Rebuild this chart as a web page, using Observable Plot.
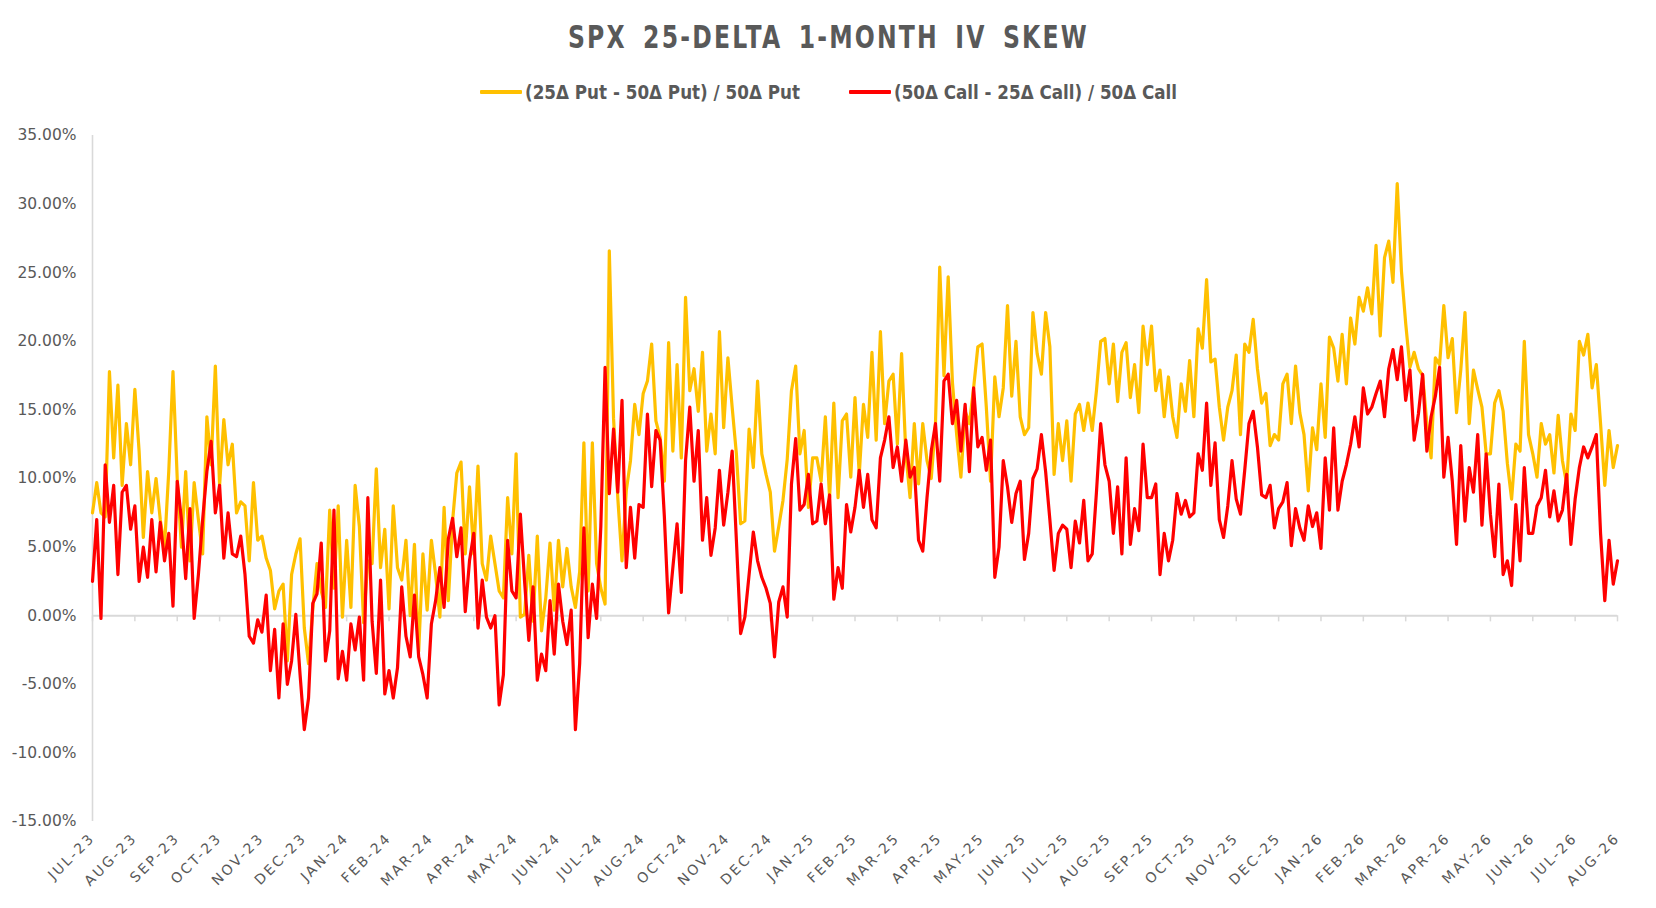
<!DOCTYPE html>
<html>
<head>
<meta charset="utf-8">
<script src="https://cdn.jsdelivr.net/npm/d3@7"></script>
<script src="https://cdn.jsdelivr.net/npm/@observablehq/plot@0.6"></script>
<style>
  html, body { margin: 0; padding: 0; background: #ffffff; }
  #wrap { position: relative; width: 1656px; height: 908px; overflow: hidden; background: #fff; }
  #header { position: relative; width: 1656px; height: 120px; }
  #title {
    position: absolute; left: 0; top: 16px; width: 1656px; text-align: center;
    font-family: "DejaVu Sans", "Open Sans", sans-serif;
    font-weight: bold; font-size: 32px; line-height: 42px; letter-spacing: 3px; word-spacing: 8px;
    color: #595959; white-space: nowrap;
  }
  #title .inner { display: inline-block; transform-origin: 50% 50%; }
  #legend {
    position: absolute; left: 0; top: 78px; width: 1656px; height: 28px;
    display: flex; justify-content: center; align-items: center; gap: 49px;
    font-family: "DejaVu Sans", "Open Sans", sans-serif;
    font-weight: bold; font-size: 20px; color: #595959; white-space: nowrap;
  }
  .item { display: flex; align-items: center; gap: 3px; }
  .sw { width: 42px; height: 4px; border-radius: 1px; }
  .lt { display: inline-block; overflow: visible; }
  .lt .inner { display: inline-block; transform-origin: 0 50%; }
  #chart svg { display: block; }
  g[aria-label="x-axis tick label"] { letter-spacing: 2.4px; }
</style>
</head>
<body>
<div id="wrap">
  <div id="header">
    <div id="title"></div>
    <div id="legend"></div>
  </div>
  <div id="chart"></div>
</div>
<script>
// ---------------- DATA ----------------
const chartTitle = "SPX 25-DELTA 1-MONTH IV SKEW";
const seriesNames = ["(25Δ Put - 50Δ Put) / 50Δ Put", "(50Δ Call - 25Δ Call) / 50Δ Call"];
const seriesColors = ["#FFC000", "#FF0000"];

// first observation and spacing of the axis' major ticks (Excel date axis)
const startDate = "2023-07-25";
const tickStepDays = 31;
const pointsPerTick = 10;

const tickLabels = [
  "JUL-23","AUG-23","SEP-23","OCT-23","NOV-23","DEC-23",
  "JAN-24","FEB-24","MAR-24","APR-24","MAY-24","JUN-24","JUL-24","AUG-24","OCT-24","NOV-24","DEC-24",
  "JAN-25","FEB-25","MAR-25","APR-25","MAY-25","JUN-25","JUL-25","AUG-25","SEP-25","OCT-25","NOV-25","DEC-25",
  "JAN-26","FEB-26","MAR-26","APR-26","MAY-26","JUN-26","JUL-26","AUG-26"
];

const yTicks = [-15, -10, -5, 0, 5, 10, 15, 20, 25, 30, 35];

// (25Δ Put - 50Δ Put) / 50Δ Put, in %  (10 readings per tick interval)
const putSkew = [
  7.5, 9.7, 7.5, 7.2, 17.8, 11.5, 16.8, 9.5, 14, 11,
  16.5, 12, 5.7, 10.5, 7.5, 10, 7, 5, 10.5, 17.8,
  10, 5, 10.5, 4, 9.7, 7, 4.5, 14.5, 11, 18.2,
  9.5, 14.3, 11, 12.5, 7.5, 8.3, 8, 4, 9.7, 5.5,
  5.8, 4.2, 3.3, 0.5, 1.8, 2.3, -3.3, 3.0, 4.5, 5.6,
  -0.9, -3.5, 0.5, 3.8, 1.8, 0.6, 7.7, 2, 8, -0.1,
  5.5, 0.6, 9.5, 6.5, -0.5, 4, 3.8, 10.7, 3.5, 6.3,
  0.5, 8, 3.5, 2.6, 5.5, 0, 5.2, -2.6, 4.5, 0.4,
  5.5, 3, -0.1, 7.9, 1.1, 6.9, 10.4, 11.2, 4.5, 9.4,
  4.5, 10.9, 3.8, 2.6, 5.8, 3.8, 1.8, 1.3, 8.6, 4.5,
  11.8, -0.1, 0.1, 4.4, -0.4, 5.8, -1.1, 1.3, 5.3, 0.4,
  5.5, 2.1, 4.9, 2.1, 0.6, 3.2, 12.6, 1.8, 12.6, 3.8,
  2, 0.85, 26.6, 14.4, 8.6, 4, 9.1, 11.3, 15.4, 13.2,
  16.2, 17.1, 19.8, 14.2, 13, 9.8, 19.9, 12, 18.3, 11.5,
  23.2, 16.4, 18, 14.9, 19.2, 12, 14.7, 11.8, 20.7, 13.7,
  18.8, 15.2, 11.8, 6.7, 6.9, 13.6, 10.8, 17.1, 11.8, 10.3,
  9, 4.7, 6.5, 8.4, 11.4, 16.4, 18.2, 11.8, 13.5, 7.9,
  11.5, 11.5, 9.8, 14.5, 8.6, 15.5, 8.6, 14.2, 14.7, 10.1,
  15.9, 10.3, 15.4, 13, 19.2, 12.8, 20.7, 14, 17.1, 17.6,
  12.5, 19.1, 11.8, 8.6, 14, 9.6, 14, 11.3, 10, 14,
  25.4, 17.5, 24.7, 17, 13.2, 10.1, 14.9, 14, 16.6, 19.6,
  19.8, 15.2, 9.8, 17.4, 14.5, 16.6, 22.6, 16, 20, 14.5,
  13.2, 13.7, 22.1, 19.1, 17.6, 22.1, 19.6, 10.3, 14, 11.3,
  14.2, 9.8, 14.7, 15.4, 13.5, 15.5, 13.5, 16.4, 20, 20.2,
  16.9, 19.8, 15.6, 19.2, 19.9, 15.9, 18.3, 14.8, 21.1, 18.3,
  21.1, 16.4, 17.9, 14.5, 17.4, 14.5, 13, 16.9, 14.9, 18.6,
  14.5, 20.9, 19.5, 24.5, 18.5, 18.7, 15.2, 12.8, 15.2, 16.4,
  19, 13.2, 19.8, 19.2, 21.6, 18, 15.5, 16.2, 12.4, 13.2,
  12.8, 16.9, 17.6, 14, 18.2, 14.8, 13.2, 9.1, 13.7, 12.1,
  16.9, 13, 20.3, 19.5, 17.1, 20.5, 16.9, 21.7, 19.8, 23.2,
  22.2, 23.9, 22, 27, 20.4, 26.1, 27.3, 24.3, 31.5, 25.1,
  21.3, 18.1, 19.2, 18, 17.5, 14, 11.5, 18.8, 18.3, 22.6,
  18.8, 20.2, 14.8, 17.9, 22.1, 14, 17.9, 16.5, 15.2, 11.8,
  11.8, 15.5, 16.4, 14.9, 11.1, 8.5, 12.5, 12, 20, 13.2,
  11.8, 10.1, 14, 12.5, 13.2, 10.4, 14.6, 11.3, 9.6, 14.7,
  13.5, 20, 19, 20.5, 16.6, 18.3, 14, 9.5, 13.5, 10.8,
  12.4
];

// (50Δ Call - 25Δ Call) / 50Δ Call, in %
const callSkew = [
  2.5, 7, -0.2, 11, 6.8, 9.5, 3, 9, 9.5, 6.3,
  8, 2.5, 5, 2.8, 7, 3.2, 6.8, 4, 6, 0.7,
  9.8, 7, 2.7, 7.8, -0.2, 3, 7, 10.5, 12.7, 7.5,
  9.5, 4.2, 7.5, 4.5, 4.3, 5.8, 3, -1.5, -2, -0.3,
  -1.2, 1.5, -4, -1, -6, -0.6, -5, -3.3, 0.1, -4.3,
  -8.3, -6, 0.9, 1.6, 5.3, -3.3, -1.1, 7.7, -4.6, -2.6,
  -4.7, -0.6, -2.5, -0.1, -4.7, 8.6, -0.4, -4.2, 2.6, -5.7,
  -4, -6, -3.8, 2.1, -1.5, -3, 1.5, -3, -4.3, -6,
  -0.6, 1.1, 3.5, 0.6, 5.6, 7.1, 4.3, 6.4, 0.3, 4,
  6, -0.9, 2.6, -0.1, -0.9, 0, -6.5, -4.3, 5.5, 1.8,
  1.3, 7.4, 2.5, -1.8, 2.1, -4.7, -2.8, -4, 1.1, -2.8,
  2.3, -0.4, -2.1, 0.4, -8.3, -3.5, 6.4, -1.6, 2.3, -0.2,
  6.5, 18.1, 8.9, 13.6, 9, 15.7, 3.5, 7.9, 4.2, 8.1,
  7.9, 14.7, 9.4, 13.5, 12.8, 7.2, 0.2, 3.5, 6.7, 1.7,
  11.3, 15.2, 9.8, 13.5, 5.5, 8.6, 4.4, 6.4, 10.6, 6.6,
  9, 12, 5.5, -1.3, -0.1, 3, 6.1, 4, 2.8, 2,
  0.9, -3, 1, 2.1, -0.1, 9.6, 12.9, 7.7, 8.1, 10.3,
  6.7, 6.9, 9.6, 6.7, 8.8, 1.2, 3.5, 2, 8.1, 6.1,
  7.9, 10.6, 7.9, 10.3, 7, 6.4, 11.5, 12.8, 14.5, 10.8,
  12.3, 9.8, 12.8, 10.1, 10.8, 5.5, 4.7, 8.6, 12, 14,
  9.8, 17.1, 17.6, 14, 15.7, 12, 15.4, 10.5, 16.6, 12.3,
  13, 10.6, 12.8, 2.8, 5, 11.3, 9.4, 6.8, 8.9, 9.8,
  4.1, 6, 10, 10.7, 13.2, 10.5, 7, 3.3, 6, 6.6,
  6.3, 3.5, 6.9, 5.3, 8.4, 4, 4.5, 9, 14, 11,
  9.8, 6, 9.4, 4.5, 11.5, 5.2, 7.8, 6.2, 12.5, 8.6,
  8.6, 9.6, 3, 6, 4, 5.5, 8.9, 7.4, 8.4, 7.2,
  7.5, 11.8, 10.6, 15.5, 9.5, 12.6, 7, 5.7, 8, 11.3,
  8.5, 7.4, 10.6, 14, 14.9, 12.3, 8.8, 8.6, 9.5, 6.4,
  7.8, 8.3, 9.7, 5.1, 7.8, 6.4, 5.5, 8, 6.5, 7.5,
  4.9, 11.5, 7.7, 13.7, 7.7, 9.8, 11, 12.5, 14.5, 12.3,
  16.6, 14.7, 15.2, 16.2, 17.1, 14.5, 18, 19.4, 17.2, 19.6,
  15.7, 17.9, 12.8, 14.7, 17.6, 12, 14.5, 16, 18.1, 10.1,
  13, 9.8, 5.2, 12.4, 6.9, 10.8, 9, 13.2, 6.6, 11.8,
  7.4, 4.3, 9.6, 3, 4, 2.2, 8.1, 4, 10.8, 6,
  6, 8, 8.6, 10.6, 7.2, 9.1, 6.9, 7.7, 10.3, 5.2,
  8.5, 10.8, 12.3, 11.5, 12.3, 13.2, 6, 1.1, 5.5, 2.3,
  4
];

// ---------------- BUILD ----------------
const DAY = 864e5;
const start = new Date(startDate + "T00:00:00Z");
const stepMs = tickStepDays * DAY / pointsPerTick;
const toRows = (vals, s) => vals.map((v, i) => ({date: new Date(+start + i * stepMs), value: v, series: s}));
const putRows = toRows(putSkew, seriesNames[0]);
const callRows = toRows(callSkew, seriesNames[1]);
const tickDates = tickLabels.map((_, k) => new Date(+start + k * tickStepDays * DAY));
const labelByTime = new Map(tickDates.map((d, k) => [+d, tickLabels[k]]));
const end = tickDates[tickDates.length - 1];

// title, squeezed horizontally to the reference's condensed look
const titleEl = document.getElementById("title");
const titleInner = document.createElement("span");
titleInner.className = "inner";
titleInner.textContent = chartTitle;
titleEl.appendChild(titleInner);
const titleTarget = 521;
const tw = titleInner.getBoundingClientRect().width;
titleInner.style.transform = `scaleX(${titleTarget / tw})`;

// legend
const legend = document.getElementById("legend");
const legendTextTargets = [275, 283];
seriesNames.forEach((name, i) => {
  const item = document.createElement("div");
  item.className = "item";
  const sw = document.createElement("div");
  sw.className = "sw";
  sw.style.background = seriesColors[i];
  const outer = document.createElement("span");
  outer.className = "lt";
  const inner = document.createElement("span");
  inner.className = "inner";
  inner.textContent = name;
  outer.appendChild(inner);
  item.appendChild(sw);
  item.appendChild(outer);
  legend.appendChild(item);
  const w = inner.getBoundingClientRect().width;
  outer.style.width = legendTextTargets[i] + "px";
  inner.style.transform = `scaleX(${legendTextTargets[i] / w})`;
});

const axisGrey = "#d9d9d9";
const chart = Plot.plot({
  width: 1656,
  height: 788,
  marginLeft: 92,
  marginRight: 39,
  marginTop: 15,
  marginBottom: 87,
  style: {fontFamily: "'DejaVu Sans', 'Open Sans', sans-serif", color: "#595959", background: "#ffffff", overflow: "visible"},
  x: {type: "utc", domain: [start, end], label: null},
  y: {domain: [-15, 35], label: null},
  marks: [
    Plot.ruleX([start], {stroke: axisGrey, strokeWidth: 1.6}),
    Plot.ruleY([0], {stroke: axisGrey, strokeWidth: 2}),
    Plot.ruleX(tickDates, {y1: 0, y2: -0.45, stroke: axisGrey, strokeWidth: 1.5}),
    Plot.axisY(yTicks, {tickFormat: d => d.toFixed(2) + "%", tickSize: 0, tickPadding: 16, fontSize: 15.5}),
    Plot.axisX(tickDates, {tickFormat: d => labelByTime.get(+d), tickRotate: -45, tickSize: 0, tickPadding: 14, fontSize: 14}),
    Plot.line(putRows, {x: "date", y: "value", stroke: seriesColors[0], strokeWidth: 3.2, strokeLinejoin: "round", strokeLinecap: "round"}),
    Plot.line(callRows, {x: "date", y: "value", stroke: seriesColors[1], strokeWidth: 3.2, strokeLinejoin: "round", strokeLinecap: "round"})
  ]
});
document.getElementById("chart").appendChild(chart);
</script>
</body>
</html>
